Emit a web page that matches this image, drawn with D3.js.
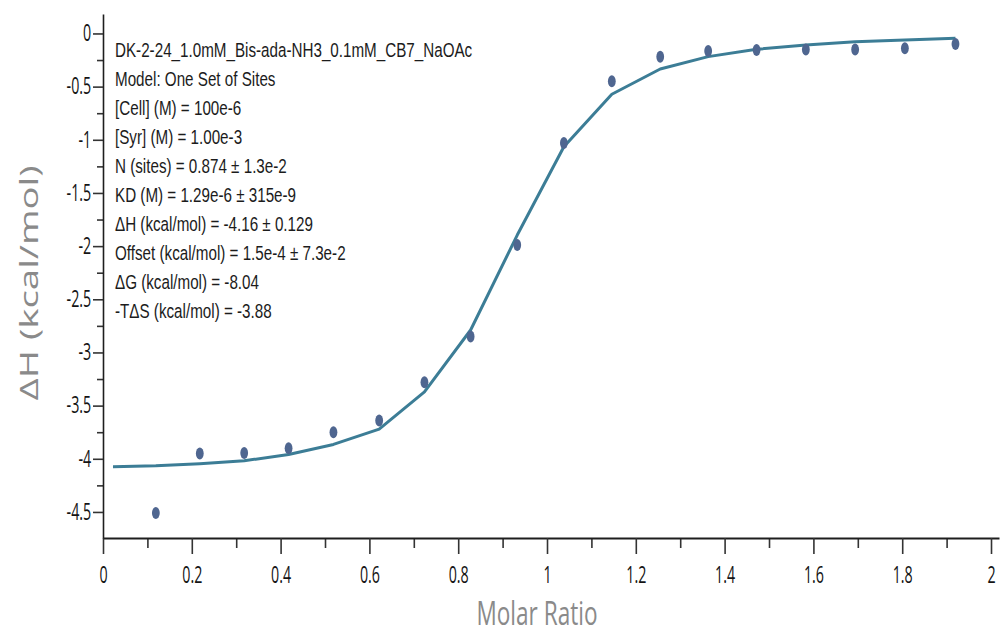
<!DOCTYPE html>
<html>
<head>
<meta charset="utf-8">
<script src="https://cdn.jsdelivr.net/npm/d3@7"></script>
<style>
  html, body { margin: 0; padding: 0; background: #ffffff; }
  svg { display: block; }
</style>
</head>
<body>
<svg id="chart" width="1001" height="636"></svg>
<script>
// Integrated heats per injection (kcal/mol of injectant) vs molar ratio
const molarRatio = [0.119, 0.218, 0.318, 0.418, 0.519, 0.622, 0.724, 0.828, 0.933,
                    1.038, 1.146, 1.255, 1.363, 1.472, 1.583, 1.694, 1.806, 1.920];
const heat = [-4.51, -3.95, -3.945, -3.90, -3.75, -3.64, -3.28, -2.85, -1.99,
              -1.03, -0.45, -0.22, -0.165, -0.155, -0.15, -0.15, -0.14, -0.10];

// One-set-of-sites model fit
const fitRatio = [0.0225, 0.119, 0.218, 0.318, 0.418, 0.519, 0.622, 0.724, 0.828, 0.933,
                  1.038, 1.146, 1.255, 1.363, 1.472, 1.583, 1.694, 1.806, 1.920];
const fitHeat = [-4.075, -4.066, -4.047, -4.019, -3.959, -3.865, -3.721, -3.370, -2.789, -1.896,
                 -1.065, -0.572, -0.334, -0.218, -0.149, -0.108, -0.077, -0.061, -0.045];

// Axis ticks
const xMajorTicks = [0, 0.2, 0.4, 0.6, 0.8, 1, 1.2, 1.4, 1.6, 1.8, 2];
const xMinorTicks = [0.1, 0.3, 0.5, 0.7, 0.9, 1.1, 1.3, 1.5, 1.7, 1.9];
const yMajorTicks = [0, -0.5, -1, -1.5, -2, -2.5, -3, -3.5, -4, -4.5];
const yMinorTicks = [-0.25, -0.75, -1.25, -1.75, -2.25, -2.75, -3.25, -3.75, -4.25];

// Fit report
const fitReport = [
  "DK-2-24_1.0mM_Bis-ada-NH3_0.1mM_CB7_NaOAc",
  "Model: One Set of Sites",
  "[Cell] (M) = 100e-6",
  "[Syr] (M) = 1.00e-3",
  "N (sites) = 0.874 \u00B1 1.3e-2",
  "KD (M) = 1.29e-6 \u00B1 315e-9",
  "\u0394H (kcal/mol) = -4.16 \u00B1 0.129",
  "Offset (kcal/mol) = 1.5e-4 \u00B1 7.3e-2",
  "\u0394G (kcal/mol) = -8.04",
  "-T\u0394S (kcal/mol) = -3.88"
];

const xTitle = "Molar Ratio";
const yTitle = "\u0394H (kcal/mol)";

const svg = d3.select("#chart");

const x = d3.scaleLinear().domain([0, 2.018]).range([103, 999]);
const y = d3.scaleLinear().domain([-4.745, 0.183]).range([538, 14]);

const axisColor = "#1e1e1e";
const tickFont = "'Open Sans', 'Liberation Sans', sans-serif";
const labelSqueeze = 0.62;

// X axis: minor ticks, then major ticks with labels
const gxMinor = svg.append("g")
  .attr("transform", `translate(0,${y.range()[0]})`)
  .call(d3.axisBottom(x).tickValues(xMinorTicks).tickSize(10).tickSizeOuter(0).tickFormat(""));
gxMinor.select(".domain").remove();

const gx = svg.append("g")
  .attr("transform", `translate(0,${y.range()[0]})`)
  .call(d3.axisBottom(x).tickValues(xMajorTicks).tickSize(16).tickSizeOuter(0)
        .tickFormat(d => String(d)));

gx.selectAll("text")
  .attr("y", 28.5)
  .attr("transform", `scale(${labelSqueeze},1)`)
  .style("font-family", tickFont)
  .style("font-size", "23px")
  .attr("fill", "#141414");

// Y axis
const gyMinor = svg.append("g")
  .attr("transform", `translate(${x.range()[0]},0)`)
  .call(d3.axisLeft(y).tickValues(yMinorTicks).tickSize(6).tickSizeOuter(0).tickFormat(""));
gyMinor.select(".domain").remove();

const gy = svg.append("g")
  .attr("transform", `translate(${x.range()[0]},0)`)
  .call(d3.axisLeft(y).tickValues(yMajorTicks).tickSize(10).tickSizeOuter(0)
        .tickFormat(d => String(d)));

gy.selectAll("text")
  .attr("x", -19)
  .attr("transform", `scale(${labelSqueeze},1)`)
  .style("font-family", tickFont)
  .style("font-size", "23px")
  .attr("fill", "#141414");

svg.selectAll(".tick line").attr("stroke", "#333").attr("stroke-width", 1.6);
gx.select(".domain").attr("stroke", axisColor).attr("stroke-width", 2.2);
gy.select(".domain").attr("stroke", axisColor).attr("stroke-width", 1.6);

// Fit curve
const line = d3.line()
  .x((d, i) => x(fitRatio[i]))
  .y(d => y(d));

svg.append("path")
  .datum(fitHeat)
  .attr("d", line)
  .attr("fill", "none")
  .attr("stroke", "#3c7d96")
  .attr("stroke-width", 3)
  .attr("stroke-linejoin", "round");

// Data points
svg.append("g")
  .selectAll("ellipse")
  .data(heat)
  .join("ellipse")
  .attr("cx", (d, i) => x(molarRatio[i]))
  .attr("cy", d => y(d))
  .attr("rx", 3.9)
  .attr("ry", 6)
  .attr("fill", "#4f6690");

// Fit report text block
const report = svg.append("g")
  .attr("transform", "translate(115,0) scale(0.78,1)")
  .style("font-family", "'Liberation Sans', Arial, sans-serif")
  .style("font-size", "19.5px")
  .attr("fill", "#1c1c1c");

report.selectAll("text")
  .data(fitReport)
  .join("text")
  .attr("x", 0)
  .attr("y", (d, i) => 57.3 + 29 * i)
  .text(d => d);

// Axis titles
svg.append("text")
  .attr("transform", "translate(537,625) scale(0.685,1)")
  .attr("text-anchor", "middle")
  .style("font-family", tickFont)
  .style("font-size", "33px")
  .attr("fill", "#8a8a8a")
  .text(xTitle);

svg.append("text")
  .attr("transform", "translate(38,283) rotate(-90) scale(1.13,0.75)")
  .attr("text-anchor", "middle")
  .style("font-family", tickFont)
  .style("font-size", "34px")
  .attr("fill", "#8a8a8a")
  .text(yTitle);
</script>
</body>
</html>
